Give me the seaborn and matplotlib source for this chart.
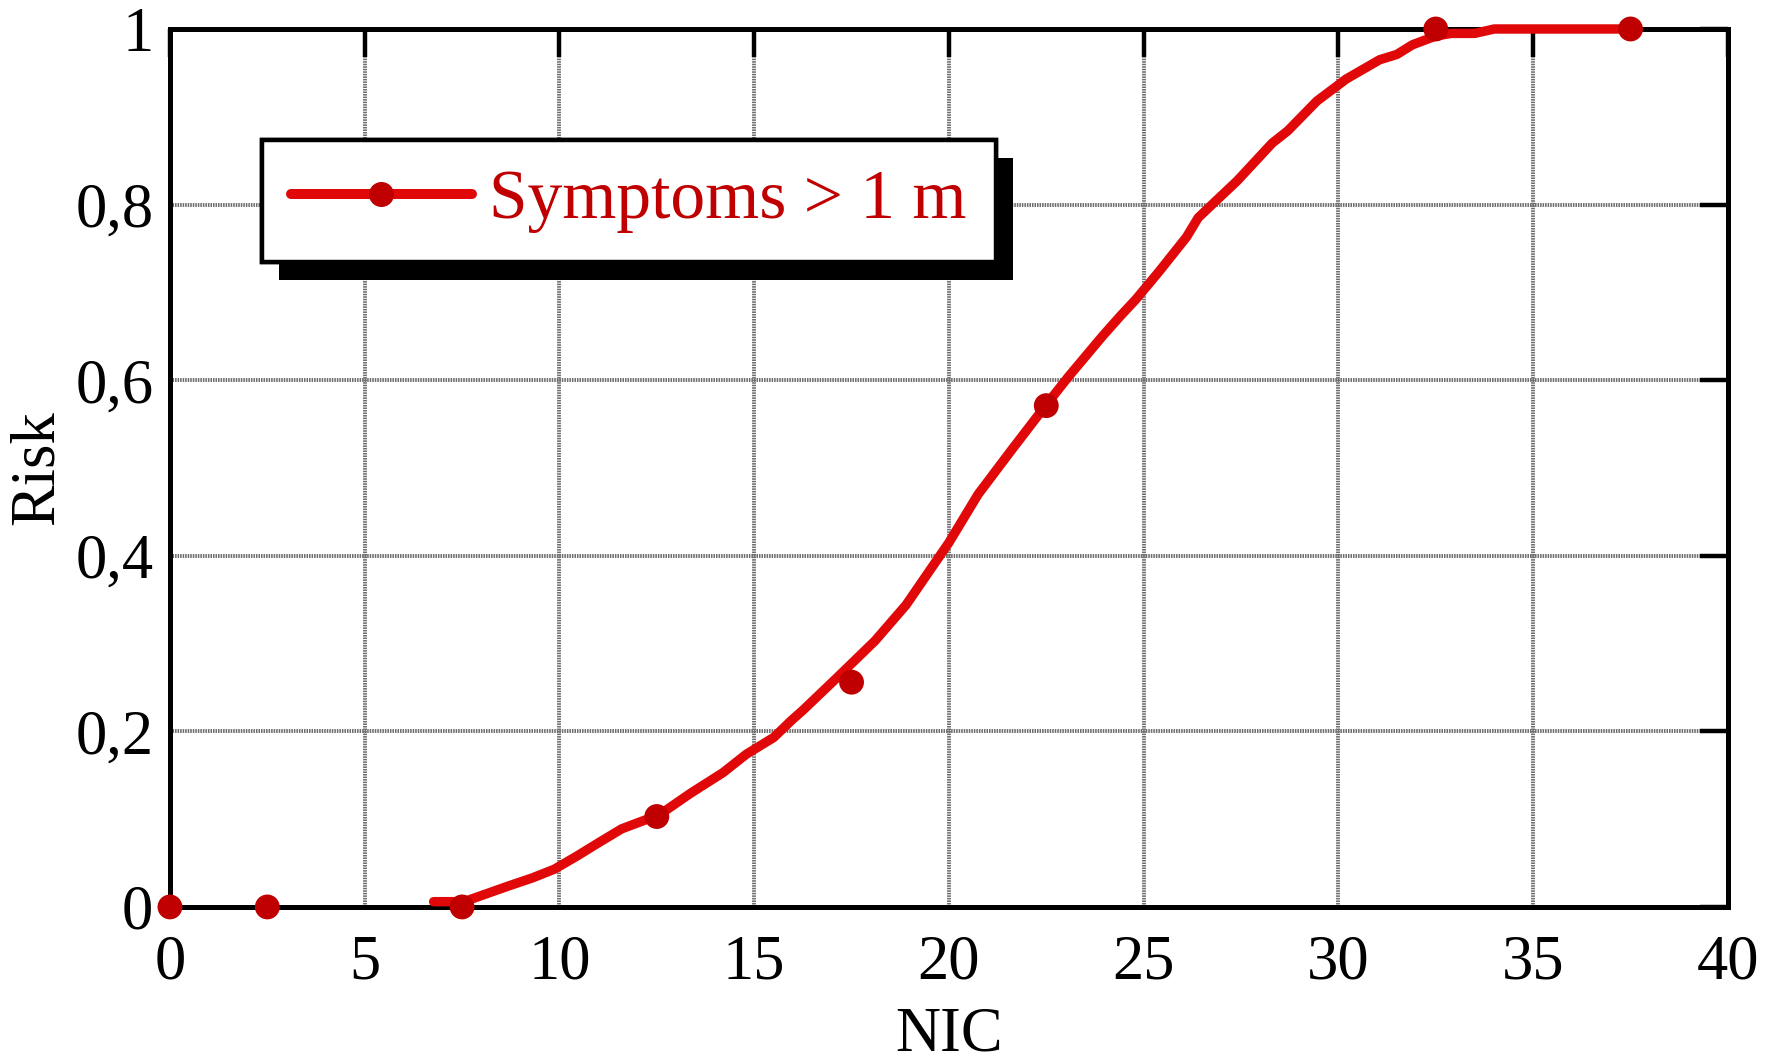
import numpy as np
import pandas as pd
import seaborn as sns
import matplotlib
matplotlib.use("Agg")
import matplotlib.pyplot as plt
from matplotlib.lines import Line2D
from matplotlib.ticker import FuncFormatter
import matplotlib.patheffects as pe

# Observed points (markers)
obs_nic = [0, 2.5, 7.5, 12.5, 17.5, 22.5, 32.5, 37.5]
obs_risk = [0, 0, 0, 0.103, 0.256, 0.571, 1.0, 1.0]

# Fitted curve
fit_nic = [6.77, 7.55, 8.7, 9.3, 9.87, 10.45, 11.0, 11.6, 12.2, 12.6, 13.35,
           14.2, 14.8, 15.5, 15.97, 16.25, 17.1, 18.1, 18.9, 20.0, 20.75,
           21.6, 22.5, 23.07, 23.94, 24.4, 24.8, 25.4, 26.1, 26.4, 26.85,
           27.4, 28.3, 28.7, 29.45, 30.2, 31.06, 31.5, 31.9, 32.5, 32.9,
           33.5, 34.0, 37.5]
fit_risk = [0.006, 0.006, 0.024, 0.033, 0.043, 0.058, 0.073, 0.089, 0.099,
            0.106, 0.129, 0.153, 0.174, 0.193, 0.213, 0.224, 0.26, 0.303,
            0.344, 0.415, 0.47, 0.52, 0.572, 0.604, 0.65, 0.673, 0.692,
            0.724, 0.763, 0.785, 0.804, 0.827, 0.87, 0.884, 0.918, 0.943,
            0.965, 0.971, 0.982, 0.992, 0.995, 0.995, 1.0, 1.0]

x_ticks = [0, 5, 10, 15, 20, 25, 30, 35, 40]
y_ticks = [0, 0.2, 0.4, 0.6, 0.8, 1.0]
legend_label = "Symptoms > 1 m"

line_red = "#e00808"
dot_red = "#c00000"

sns.set_theme(style="white")
plt.rcParams["font.family"] = ["Liberation Serif", "DejaVu Serif"]

fit_df = pd.DataFrame({"NIC": fit_nic, "Risk": fit_risk})
obs_df = pd.DataFrame({"NIC": obs_nic, "Risk": obs_risk})

fig, ax = plt.subplots(figsize=(17.74, 10.62), dpi=100)
fig.subplots_adjust(left=0.0958, right=0.974, bottom=0.146, top=0.9727)

sns.lineplot(data=fit_df, x="NIC", y="Risk", color=line_red, linewidth=6.8,
             ax=ax, zorder=5, clip_on=False, sort=False)
sns.scatterplot(data=obs_df, x="NIC", y="Risk", color=dot_red, s=320,
                edgecolor="none", ax=ax, zorder=6, clip_on=False)

ax.set_xlim(0, 40)
ax.set_ylim(0, 1)
ax.set_xticks(x_ticks)
ax.set_yticks(y_ticks)
ax.yaxis.set_major_formatter(FuncFormatter(lambda v, p: f"{v:g}".replace(".", ",")))

ax.grid(True, color="#6e6e6e", linewidth=2.8, linestyle=(0, (0.4, 0.25)))
ax.set_axisbelow(True)
for s in ax.spines.values():
    s.set_color("black")
    s.set_linewidth(3.6)
    s.set_zorder(4)

ax.tick_params(direction="in", length=20, width=3.2, color="black",
               top=True, right=True, labelsize=45, labelcolor="black")
ax.tick_params(axis="x", pad=20)
ax.tick_params(axis="y", pad=12)

ax.set_xlabel("NIC", fontsize=45, labelpad=10, color="black")
ax.set_ylabel("Risk", fontsize=45, labelpad=6, color="black")

handle = Line2D([], [], color=line_red, linewidth=7.2, marker="o",
                markersize=17, markerfacecolor=dot_red, markeredgecolor=dot_red)
leg = ax.legend([handle], [legend_label], loc="upper left",
                bbox_to_anchor=(0.059, 0.873), borderaxespad=0,
                fontsize=50, frameon=True, fancybox=False, framealpha=1,
                handlelength=2.6, handletextpad=0.25, borderpad=0.42)
leg.get_frame().set_edgecolor("black")
leg.get_frame().set_linewidth(3.2)
leg.get_frame().set_path_effects([
    pe.withSimplePatchShadow(offset=(12.5, -12.5), shadow_rgbFace="black", alpha=1),
    pe.Normal()])
leg.set_zorder(10)
for t in leg.get_texts():
    t.set_color(dot_red)

plt.savefig("out.png", dpi=100)
